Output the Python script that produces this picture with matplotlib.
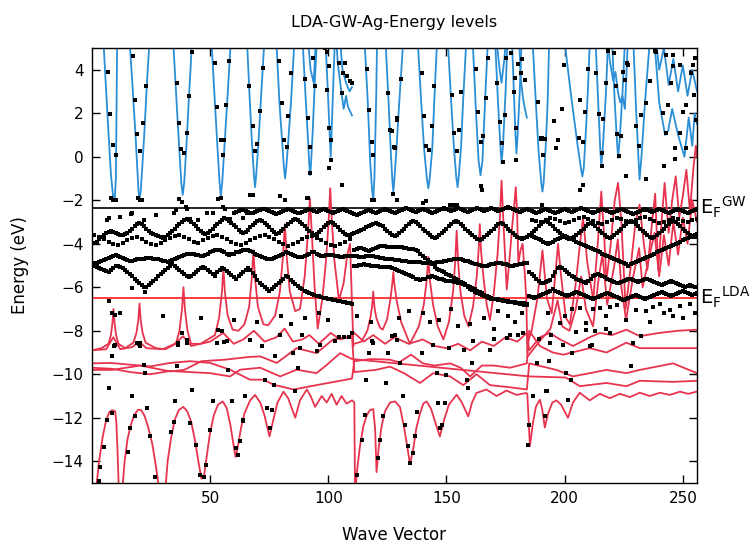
import matplotlib
matplotlib.use("Agg")
import matplotlib.pyplot as plt

# ---------------- data ----------------
# LDA conduction band (blue), vertices (x, E)
blue1_x = [4.5, 6.5, 8.0, 8.8, 9.2, 9.6, 10.1, 10.7,
           15.5, 17.0, 18.3, 19.2, 19.7, 20.1, 20.6, 21.2, 22.2, 23.3, 24.7,
           34.0, 35.8, 36.9, 37.8, 38.4, 39.0, 39.9, 40.9, 42.7,
           50.2, 52.0, 53.1, 54.0, 54.5, 55.1, 56.0, 57.2, 59.1,
           65.3, 66.8, 67.7, 68.5, 69.0, 69.5, 70.4, 71.4, 73.3,
           77.7, 79.3, 80.4, 81.2, 81.7, 82.2, 83.1, 84.2, 86.0,
           88.8, 90.5, 91.4, 91.9, 92.3, 92.7, 93.4, 94.3, 95.5,
           98.5, 99.8, 100.5, 101.0, 101.5, 102.3, 103.0]
blue1_y = [6, 2.0, -0.8, -1.7, -2.0, -2.0, -1.0, 6,
           6, 3.5, 1.2, -0.6, -1.6, -1.95, -1.6, -0.6, 1.2, 3.5, 6,
           6, 2.5, 0.4, -1.2, -1.75, -1.2, 0.4, 2.5, 6,
           6, 2.5, 0.4, -1.2, -1.8, -1.2, 0.4, 2.5, 6,
           6, 2.5, 0.6, -0.8, -1.4, -0.8, 0.6, 2.5, 6,
           6, 2.5, 0.8, -0.5, -1.0, -0.5, 0.8, 2.5, 6,
           6, 2.5, 0.8, -0.3, -0.85, -0.3, 1.2, 3.5, 6,
           6, 3.0, 1.2, 0.0, 1.5, 4.0, 6]
blue2_x = [90.9, 92.5, 93.8, 95.0, 103.0, 104.0, 105.5, 106.5, 107.5, 108.3, 110.0]
blue2_y = [6, 4.0, 3.4, 6, 6, 4.3, 3.0, 2.2, 2.8, 2.3, 1.9]
blue3_x = [104.5, 106.0, 107.5, 109.0, 110.0]
blue3_y = [6, 4.0, 3.4, 3.0, 3.2]
blue4_x = [115.0, 116.7, 117.7, 118.5, 119.0, 119.5, 120.3, 120.7,
           123.9, 125.5, 126.4, 127.1, 127.5, 127.9, 128.8, 130.0, 132.1,
           137.5, 139.3, 140.5, 141.7, 142.3, 142.9, 144.0, 144.8, 146.3,
           150.2, 152.0, 153.1, 154.1, 154.7, 155.2, 156.2, 157.0, 158.7,
           160.8, 162.5, 163.6, 164.4, 165.2, 166.3, 167.8,
           170.3, 171.8, 172.8, 173.3, 173.9, 175.0, 176.0,
           177.5, 178.5, 179.2, 179.6, 180.1, 181.0, 182.0]
blue4_y = [6, 2.5, -0.2, -1.5, -2.0, -1.0, 3.0, 6,
           6, 2.5, 0.3, -1.1, -1.6, -1.1, 0.3, 2.5, 6,
           6, 2.5, 0.4, -1.0, -1.45, -1.0, 0.4, 2.5, 6,
           6, 2.5, 0.5, -0.9, -1.4, -0.9, 0.5, 2.5, 6,
           6, 2.0, -0.2, -0.85, -0.2, 2.5, 6,
           6, 2.5, 0.5, -0.3, 0.5, 3.0, 6,
           6, 3.0, 1.0, 0.15, 1.0, 3.0, 6]
blue5_x = [170.5, 172.5, 173.3, 174.5, 175.5, 180.5, 181.5, 182.5, 183.2, 184.0]
blue5_y = [6, 4.0, 3.4, 4.5, 6, 6, 3.5, 2.6, 2.2, 1.8]
blue6_x = [186.1, 187.8, 189.0, 190.1, 190.6, 191.1, 192.0, 192.8, 193.6,
           199.2, 202.5, 205.5, 207.0, 207.5, 208.1, 209.0, 209.8, 210.9,
           212.8, 214.2, 215.0, 215.5, 216.2, 217.5, 218.6,
           219.8, 221.2, 222.1, 222.6, 223.3, 224.5, 225.8,
           228.8, 230.3, 231.2, 231.7, 232.5, 234.0, 236.5,
           237.5, 240.0, 242.5, 243.8, 245.5, 248.0, 250.7, 252.5, 254.0, 255.0, 256.0]
blue6_y = [6, 2.5, 0.2, -1.2, -1.6, -1.2, 0.5, 2.5, 6,
           6, 3.0, 0.5, -0.6, -0.9, -0.5, 1.2, 3.0, 6,
           6, 2.5, 0.5, -0.45, 0.5, 3.0, 6,
           6, 2.5, 0.8, -0.05, 0.8, 3.0, 6,
           6, 2.0, 0.0, -1.05, 0.0, 2.5, 6,
           6, 2.5, 1.0, 1.2, 2.2, 1.0, 0.0, 1.8, 0.5, 2.0, 1.5]
blue7_x = [217.5, 219.0, 220.5, 221.5, 222.5, 223.5, 224.5, 225.5, 227.0,
           238.0, 240.0, 242.0, 244.0, 246.0, 248.0, 250.0, 252.0, 254.0, 256.0]
blue7_y = [6, 4.5, 3.5, 3.9, 3.0, 2.5, 2.8, 2.2, 6,
           6, 4.0, 5.0, 3.3, 4.5, 3.0, 4.2, 2.8, 4.0, 3.0]

# LDA valence bands (red), vertices (x, E)
red1_x = [0, 4, 7.0, 8.0, 8.6, 9.1, 9.6, 10.2, 11.2, 14, 17.5, 18.8, 19.6, 20.1, 20.6, 21.4, 22.7,
          27, 31, 35.5, 37.0, 38.1, 38.7, 39.3, 40.4, 41.9, 46, 52.0, 53.8, 55.0, 55.6, 56.2,
          57.4, 59.5, 62.0, 64.5, 66.5, 67.6, 68.3, 69.0, 70.2, 72.5, 74.5, 77.5, 79.5, 80.8,
          81.6, 82.4, 83.7, 86.0, 88.0, 90.0, 91.4, 92.2, 93.0, 94.2, 95.5, 97.5, 99.0, 100.1,
          100.8, 101.5, 102.6, 104.5, 106.5, 108.0, 109.2, 110.6]
red1_y = [-8.9, -8.8, -8.6, -8.2, -7.7, -7.0, -7.7, -8.2, -8.6, -8.8, -8.55, -8.1, -7.5, -6.75, -7.5, -8.1, -8.55,
          -8.8, -8.85, -8.6, -8.0, -7.0, -6.0, -7.0, -8.0, -8.6, -8.6, -8.2, -7.4, -6.2, -5.1, -6.2,
          -7.3, -7.95, -8.0, -7.7, -6.9, -5.6, -4.3, -5.6, -6.9, -7.7, -7.75, -7.3, -6.2, -4.6,
          -3.1, -4.6, -6.2, -7.1, -7.0, -5.5, -3.5, -1.9, -3.5, -6.0, -7.9, -6.5, -4.8, -3.0,
          -1.45, -3.0, -4.8, -6.6, -5.8, -4.5, -4.0, -8.7]
red1b_x = [111, 114, 116.5, 117.8, 118.5, 119.0, 119.5, 120.3, 121.8, 123.0, 124.8, 126.2, 127.0,
           127.5, 128.0, 128.9, 130.8, 134.5, 138.3, 140.4, 141.6, 142.3, 143.0, 144.3, 146.3,
           148.7, 151.0, 152.8, 153.7, 154.3, 154.9, 155.9, 157.5, 159.3, 161.2, 162.8, 163.6,
           164.1, 164.6, 165.6, 167.0, 168.4, 170.0, 171.6, 172.6, 173.3, 174.0, 174.8, 175.5,
           176.6, 177.8, 178.7, 179.3, 179.9, 180.4, 181.3, 182.2, 183.2, 183.8, 184.2]
red1b_y = [-8.6, -8.5, -8.0, -7.4, -6.9, -6.2, -6.9, -7.4, -7.85, -7.95, -7.5, -6.6, -5.9,
           -5.3, -5.9, -6.6, -7.6, -8.6, -7.8, -6.8, -5.7, -4.6, -5.7, -6.8, -7.8,
           -8.4, -7.6, -6.2, -4.8, -3.4, -4.8, -6.2, -7.3, -7.8, -6.9, -5.5, -4.3,
           -3.1, -4.3, -5.5, -6.8, -7.5, -6.3, -4.5, -2.8, -1.1, -2.8, -4.6, -6.1,
           -4.8, -3.2, -2.2, -1.4, -2.6, -4.9, -4.3, -4.0, -5.5, -6.6, -9.0]
red1c_x = [184.2, 186, 188.5, 190.6, 192.5, 194.5, 196, 197.2, 198.5, 200.5, 202.2, 204.5, 206.5,
           207.8, 209.5, 212.1, 214, 215.5, 216.8, 217.7, 219.5, 221.2, 222.6, 224, 225.8,
           228, 230, 231.7, 233.5, 235, 237, 238.3, 239.6, 241, 242.3, 244, 245.5, 247,
           248.5, 250, 251.5, 253, 254.5, 255.5, 256]
red1c_y = [-8.6, -8.0, -6.5, -4.3, -6.5, -7.2, -5.5, -4.0, -5.5, -7.4, -7.7, -6.0, -4.0,
           -2.8, -4.8, -6.6, -4.0, -1.6, -3.8, -5.7, -4.0, -2.0, -1.2, -3.0, -7.0,
           -5.0, -3.0, -2.2, -4.0, -5.2, -3.0, -1.7, -5.2, -3.0, -1.2, -3.5, -2.0, -0.9,
           -2.8, -1.8, -0.6, -2.5, -0.5, 0.5, 0.0]
red1d_x = [184.2, 190, 194, 197, 199, 202, 204.7, 207, 209, 212, 214.5, 216, 218, 221, 222.5,
           224, 226, 229, 231.5, 233, 236, 238, 240, 242, 244, 246, 248, 250, 252, 254, 256]
red1d_y = [-9.2, -8.4, -7.9, -6.6, -7.8, -8.0, -7.0, -5.5, -7.0, -7.8, -5.5, -4.5, -6.8, -5.0, -3.8,
           -6.0, -7.5, -5.5, -4.2, -6.0, -4.5, -3.5, -5.5, -3.6, -5.0, -3.0, -4.5, -2.8, -4.0, -2.0, -3.0]
red2_x = [0, 6, 9, 12, 17, 20, 23, 30, 35, 38.5, 42, 50, 55.5, 60, 64, 68.5, 73, 78, 81.5,
          85, 89, 92, 96, 101, 105, 110,
          111, 115, 119, 124, 128, 134, 140, 145, 150, 155, 160, 165, 170, 175, 180, 184,
          185, 189.5, 193.7, 198, 203.6, 210.6, 214.9, 220, 226.1, 231.8, 240, 248, 256]
red2_y = [-8.9, -8.85, -8.3, -8.85, -8.75, -8.5, -8.8, -8.85, -8.6, -8.25, -8.7, -8.5, -8.1, -8.6, -8.4,
          -8.0, -8.5, -8.3, -7.9, -8.5, -8.4, -8.2, -8.6, -8.1, -8.4, -8.25,
          -8.1, -8.5, -8.2, -8.6, -8.3, -8.6, -8.4, -8.7, -8.8, -8.6, -8.9, -8.5, -8.7, -8.3, -8.5, -8.1,
          -8.9, -8.3, -8.1, -8.4, -8.7, -8.3, -8.1, -8.2, -7.95, -8.25, -8.1, -8.0, -7.95]
red3_x = [0, 7.7, 16.2, 24.6, 33.1, 41.5, 50, 58.4, 66.9, 72.6, 76.8, 85.3, 95, 110,
          111, 118, 126, 130, 135, 140, 145, 151.5, 156, 160, 165, 170, 176.9, 184,
          185, 189.5, 195, 199.4, 210.6, 217.7, 226.1, 231.8, 245, 256]
red3_y = [-9.5, -9.48, -9.56, -9.64, -9.48, -9.4, -9.48, -9.79, -10.25, -10.25, -10.48, -10.7, -10.5, -10.2,
          -9.4, -9.3, -9.33, -9.45, -9.1, -9.5, -9.6, -9.5, -9.7, -10.1, -9.6, -9.6, -9.7, -9.5,
          -8.0, -8.7, -9.0, -9.1, -8.8, -9.0, -8.55, -8.8, -8.8, -8.8]
red4_x = [0, 8.5, 20.4, 33.1, 39, 46.3, 56.3, 66.9, 71.2, 78.2, 86.6, 95, 102, 110,
          111, 120, 126.1, 132, 138.8, 144.4, 151.5, 157.1, 162.7, 168.4, 176.9, 184,
          185, 196.5, 203.5, 217.7, 226.1, 231.8, 245.9, 256]
red4_y = [-9.8, -9.8, -9.6, -9.87, -9.8, -9.4, -9.33, -9.2, -9.18, -9.48, -8.8, -9.03, -8.4, -8.25,
          -9.9, -9.8, -9.65, -9.95, -10.4, -9.95, -10.1, -10.5, -10.0, -10.5, -10.6, -10.7,
          -9.5, -9.8, -10.1, -9.8, -9.95, -9.8, -9.5, -9.95]
red5_x = [0, 8.5, 16.2, 24.6, 33.1, 41.5, 50, 58.4, 62.7, 71.2, 79.6, 86.6, 95, 99, 105, 110,
          185, 200.5, 206.4, 217.7, 226.1, 231.8, 246, 256]
red5_y = [-9.7, -9.75, -9.9, -10.0, -9.85, -9.9, -9.95, -10.1, -9.79, -9.7, -10.1, -9.79, -9.95, -9.6, -9.03, -9.3,
          -10.1, -10.15, -10.55, -10.4, -10.55, -10.3, -10.35, -10.3]
red6_x = [1.5, 3.0, 4.5, 6.0, 7.3, 8.5, 9.8, 10.3, 10.8, 11.4,
          12.7, 13.8, 15.0, 16.5, 18.0, 19.5, 20.8, 22.2, 23.7, 25.5, 27.0, 28.3, 28.8,
          30.9, 32.0, 33.5, 35.0, 36.7, 38.6, 40.3, 42.0, 43.5, 45.0, 46.3, 47.3, 48.5, 49.8,
          51.5, 53.3, 55.3, 57.0, 58.5, 59.8, 60.7, 61.6, 63.0, 64.5, 66.9, 69.0, 71.2, 73.0,
          75.1, 76.5, 78.5, 81.0, 83.0, 86.0, 88.0, 90.9, 92.5, 94.4, 97.2, 99.3, 101.4, 103.5,
          105.6, 107.7, 110.0, 111.0,
          111.3, 112.3, 113.4, 114.8, 116.2, 117.6, 119.0, 119.8, 120.4, 121.2, 122.5, 124.0,
          126.1, 128.2, 130.3, 132.0, 133.5, 134.5, 135.7, 137.2, 138.8, 140.2, 141.6, 143.5,
          145.5, 147.2, 149.0, 151.0, 154.3, 156.5, 159.2, 160.8, 162.7, 166.9, 171.2, 175.4,
          179.6, 183.8, 184.2,
          185.3, 186.5, 187.8, 189.5, 190.5, 191.6, 193.0, 194.8, 196.5, 198.5, 201.4, 203.5,
          206.4, 210.6, 214.9, 219.1, 223.4, 227.6, 231.8, 236.0, 240.3, 244.5, 248.8, 252.3, 255.8]
red6_y = [-15.5, -14.0, -12.9, -12.1, -11.75, -11.65, -11.7, -12.2, -13.5, -15.5,
          -15.5, -14.0, -13.0, -12.3, -11.85, -11.63, -11.65, -11.9, -12.4, -13.2, -14.2, -15.2, -15.5,
          -15.5, -14.0, -12.9, -12.1, -11.65, -11.5, -11.7, -12.2, -13.0, -14.0, -14.8, -14.75, -13.8, -12.8,
          -11.9, -11.4, -11.25, -11.55, -12.3, -13.2, -13.8, -13.4, -12.5, -11.8, -11.2, -10.95, -11.3, -11.9,
          -12.86, -12.2, -11.3, -10.8, -11.1, -12.0, -11.2, -10.7, -11.0, -11.5, -11.0, -11.3, -10.9, -11.4,
          -11.0, -11.35, -11.2, -11.3,
          -15.5, -14.3, -13.3, -12.4, -11.9, -11.65, -11.6, -12.5, -14.5, -13.5, -12.4, -11.7,
          -11.3, -11.25, -11.5, -12.4, -13.4, -14.1, -13.6, -12.5, -11.8, -11.35, -11.25, -11.6,
          -12.3, -12.86, -12.1, -11.4, -10.94, -11.3, -11.94, -11.3, -10.86, -10.7, -11.0, -10.75,
          -10.95, -10.86, -10.9,
          -13.3, -12.3, -11.5, -11.17, -11.6, -12.45, -11.8, -11.3, -11.2, -11.4, -12.0, -11.3,
          -10.85, -11.2, -10.9, -11.1, -10.9, -11.05, -10.85, -11.0, -10.85, -10.95, -10.8, -10.9, -10.8]

# Horizontal Fermi levels
ef_gw = -2.35
ef_lda = -6.48

# GW quasiparticle energies (black dots)
gw_main_x = list(range(1, 111))
gw_main_y = [-4.9, -4.88, -4.85, -4.8, -4.75, -4.7, -4.65, -4.6, -4.55, -4.5,
             -4.55, -4.6, -4.65, -4.7, -4.75, -4.8, -4.78, -4.75, -4.7, -4.7,
             -4.7, -4.68, -4.66, -4.65, -4.66, -4.68, -4.7, -4.72, -4.75, -4.78,
             -4.8, -4.82, -4.8, -4.75, -4.7, -4.65, -4.6, -4.55, -4.5, -4.48,
             -4.45, -4.45, -4.47, -4.5, -4.52, -4.55, -4.55, -4.5, -4.45, -4.4,
             -4.35, -4.3, -4.28, -4.3, -4.35, -4.4, -4.45, -4.5, -4.48, -4.45,
             -4.4, -4.38, -4.35, -4.3, -4.28, -4.3, -4.35, -4.4, -4.45, -4.5,
             -4.55, -4.6, -4.65, -4.7, -4.72, -4.7, -4.65, -4.6, -4.55, -4.5,
             -4.45, -4.4, -4.42, -4.45, -4.5, -4.55, -4.6, -4.62, -4.6, -4.55,
             -4.5, -4.45, -4.4, -4.4, -4.45, -4.5, -4.55, -4.55, -4.5, -4.5,
             -4.5, -4.52, -4.55, -4.58, -4.6, -4.6, -4.58, -4.55, -4.55, -4.55]
gw_main2_x = list(range(111, 185))
gw_main2_y = [-4.55, -4.58, -4.6, -4.62, -4.6, -4.58, -4.55, -4.55, -4.58, -4.6,
              -4.62, -4.65, -4.66, -4.68, -4.7, -4.7, -4.72, -4.74, -4.75, -4.76,
              -4.78, -4.8, -4.8, -4.82, -4.83, -4.84, -4.85, -4.86, -4.86, -4.87,
              -4.88, -4.88, -4.9, -4.9, -4.88, -4.86, -4.84, -4.82, -4.8, -4.78,
              -4.76, -4.74, -4.72, -4.7, -4.7, -4.72, -4.75, -4.78, -4.8, -4.84,
              -4.88, -4.92, -4.95, -4.98, -5.0, -5.02, -5.0, -4.98, -4.95, -4.92,
              -4.9, -4.88, -4.9, -4.92, -4.95, -4.98, -5.0, -5.0, -4.98, -4.96,
              -4.94, -4.92, -4.9, -4.9]
gw_diag_x = list(range(111, 185))
gw_diag_y = [-5.0, -5.0, -4.98, -4.96, -4.95, -4.96, -4.98, -5.0, -5.02, -5.03,
             -5.04, -5.05, -5.05, -5.05, -5.05, -5.05, -5.1, -5.15, -5.2, -5.25,
             -5.3, -5.35, -5.4, -5.45, -5.5, -5.55, -5.6, -5.64, -5.66, -5.64,
             -5.6, -5.55, -5.52, -5.5, -5.52, -5.56, -5.6, -5.64, -5.68, -5.7,
             -5.72, -5.73, -5.75, -5.77, -5.79, -5.81, -5.85, -5.9, -5.98, -6.06,
             -6.14, -6.22, -6.27, -6.32, -6.37, -6.42, -6.46, -6.5, -6.52, -6.54,
             -6.56, -6.58, -6.6, -6.62, -6.64, -6.66, -6.68, -6.7, -6.72, -6.74,
             -6.76, -6.78, -6.8, -6.82]
gw_diag2_x = list(range(111, 185))
gw_diag2_y = [-4.3, -4.25, -4.2, -4.2, -4.25, -4.3, -4.35, -4.3, -4.25, -4.2,
              -4.15, -4.12, -4.1, -4.12, -4.13, -4.13, -4.13, -4.13, -4.14, -4.15,
              -4.16, -4.18, -4.2, -4.22, -4.24, -4.26, -4.28, -4.35, -4.45, -4.55,
              -4.65, -4.75, -4.85, -4.95, -5.05, -5.15, -5.2, -5.26, -5.32, -5.38,
              -5.44, -5.5, -5.56, -5.62, -5.68, -5.74, -5.8, -5.86, -5.92, -5.98,
              -6.04, -6.1, -6.16, -6.22, -6.28, -6.34, -6.4, -6.45, -6.5, -6.52,
              -6.54, -6.56, -6.58, -6.6, -6.62, -6.64, -6.66, -6.68, -6.7, -6.72,
              -6.73, -6.73, -6.74, -6.75]
gw_top_x = list(range(60, 257))
gw_top_y = [-2.6, -2.55, -2.5, -2.45, -2.45, -2.5, -2.55, -2.6, -2.6, -2.55,
            -2.5, -2.45, -2.4, -2.4, -2.45, -2.5, -2.55, -2.6, -2.65, -2.6,
            -2.55, -2.5, -2.45, -2.4, -2.45, -2.5, -2.55, -2.6, -2.6, -2.55,
            -2.5, -2.45, -2.4, -2.45, -2.5, -2.55, -2.5, -2.45, -2.4, -2.45,
            -2.5, -2.55, -2.6, -2.55, -2.5, -2.45, -2.4, -2.45, -2.5, -2.55,
            -2.6, -2.65, -2.7, -2.65, -2.6, -2.55, -2.5, -2.45, -2.5, -2.55,
            -2.6, -2.55, -2.5, -2.45, -2.4, -2.45, -2.5, -2.55, -2.6, -2.55,
            -2.5, -2.45, -2.4, -2.35, -2.4, -2.45, -2.5, -2.55, -2.5, -2.45,
            -2.4, -2.45, -2.5, -2.55, -2.6, -2.55, -2.5, -2.45, -2.4, -2.35,
            -2.4, -2.45, -2.5, -2.45, -2.4, -2.35, -2.4, -2.45, -2.5, -2.55,
            -2.5, -2.45, -2.4, -2.35, -2.4, -2.45, -2.5, -2.45, -2.4, -2.35,
            -2.4, -2.45, -2.5, -2.45, -2.4, -2.35, -2.3, -2.35, -2.4, -2.45,
            -2.5, -2.55, -2.5, -2.45, -2.4, -2.45, -2.5, -2.55, -2.6, -2.55,
            -2.5, -2.45, -2.4, -2.45, -2.5, -2.55, -2.6, -2.55, -2.5, -2.45,
            -2.4, -2.45, -2.5, -2.55, -2.5, -2.45, -2.4, -2.35, -2.4, -2.45,
            -2.5, -2.55, -2.6, -2.55, -2.5, -2.45, -2.4, -2.45, -2.5, -2.55,
            -2.6, -2.55, -2.5, -2.45, -2.4, -2.45, -2.5, -2.55, -2.6, -2.65,
            -2.6, -2.55, -2.5, -2.45, -2.4, -2.45, -2.5, -2.55, -2.5, -2.45,
            -2.4, -2.45, -2.5, -2.55, -2.6, -2.55, -2.5, -2.45, -2.4, -2.45,
            -2.5, -2.55, -2.6, -2.55, -2.5, -2.45, -2.4]
gw_zig_x = list(range(1, 257))
gw_zig_y = [-3.95, -3.9, -3.8, -3.7, -3.6, -3.5, -3.45, -3.4, -3.45, -3.5,
            -3.55, -3.6, -3.6, -3.55, -3.5, -3.4, -3.3, -3.2, -3.1, -3.05,
            -3.1, -3.2, -3.3, -3.4, -3.5, -3.55, -3.6, -3.65, -3.7, -3.75,
            -3.7, -3.6, -3.5, -3.4, -3.3, -3.2, -3.1, -3.0, -2.9, -2.85,
            -2.9, -3.0, -3.1, -3.2, -3.3, -3.4, -3.5, -3.55, -3.5, -3.4,
            -3.3, -3.2, -3.1, -3.0, -2.9, -2.8, -2.85, -2.95, -3.05, -3.15,
            -3.25, -3.35, -3.45, -3.5, -3.45, -3.35, -3.25, -3.15, -3.05, -2.95,
            -2.9, -2.95, -3.05, -3.15, -3.25, -3.35, -3.45, -3.55, -3.5, -3.4,
            -3.3, -3.2, -3.1, -3.0, -2.9, -2.85, -2.9, -3.0, -3.1, -3.2,
            -3.3, -3.4, -3.5, -3.6, -3.55, -3.45, -3.35, -3.25, -3.15, -3.05,
            -3.0, -3.05, -3.15, -3.25, -3.35, -3.45, -3.55, -3.6, -3.6, -3.55,
            -3.5, -3.45, -3.4, -3.35, -3.3, -3.25, -3.2, -3.15, -3.1, -3.05,
            -3.1, -3.15, -3.2, -3.3, -3.4, -3.5, -3.6, -3.65, -3.6, -3.5,
            -3.4, -3.3, -3.2, -3.1, -3.0, -2.95, -3.0, -3.1, -3.2, -3.3,
            -3.4, -3.5, -3.6, -3.7, -3.75, -3.7, -3.6, -3.5, -3.4, -3.3,
            -3.2, -3.1, -3.0, -2.95, -3.0, -3.1, -3.2, -3.3, -3.4, -3.5,
            -3.6, -3.7, -3.8, -3.85, -3.8, -3.7, -3.6, -3.5, -3.4, -3.3,
            -3.2, -3.1, -3.05, -3.1, -3.2, -3.3, -3.4, -3.5, -3.6, -3.7,
            -3.75, -3.8, -3.75, -3.7, -3.6, -3.5, -3.4, -3.3, -3.2, -3.1,
            -3.0, -2.95, -3.0, -3.1, -3.2, -3.3, -3.4, -3.5, -3.6, -3.7,
            -3.75, -3.8, -3.75, -3.7, -3.6, -3.5, -3.4, -3.3, -3.2, -3.1,
            -3.05, -3.1, -3.2, -3.3, -3.4, -3.5, -3.6, -3.7, -3.75, -3.7,
            -3.6, -3.5, -3.4, -3.3, -3.2, -3.1, -3.0, -2.95, -3.0, -3.1,
            -3.2, -3.3, -3.4, -3.5, -3.6, -3.7, -3.75, -3.7, -3.6, -3.5,
            -3.4, -3.3, -3.2, -3.1, -3.0, -2.95, -3.0, -3.1, -3.2, -3.3,
            -3.4, -3.5, -3.6, -3.65, -3.6, -3.55]
gw_zig2_x = list(range(1, 111, 2))
gw_zig2_y = [-3.6, -3.7, -3.8, -3.9, -4.0, -4.05, -3.95, -3.85, -3.75, -3.7,
             -3.8, -3.9, -4.0, -4.05, -3.95, -3.85, -3.75, -3.65, -3.6, -3.7,
             -3.8, -3.9, -3.95, -3.85, -3.75, -3.65, -3.6, -3.7, -3.8, -3.9,
             -4.0, -4.05, -3.95, -3.85, -3.75, -3.65, -3.6, -3.7, -3.8, -3.9,
             -4.0, -4.1, -4.0, -3.9, -3.8, -3.7, -3.65, -3.75, -3.85, -3.95,
             -4.05, -4.1, -4.0, -3.9, -3.8]
gw_low_x = list(range(1, 111))
gw_low_y = [-5.0, -5.05, -5.1, -5.15, -5.2, -5.25, -5.3, -5.2, -5.1, -5.0,
            -5.0, -5.05, -5.1, -5.2, -5.3, -5.4, -5.5, -5.6, -5.7, -5.8,
            -5.9, -6.0, -6.0, -5.9, -5.8, -5.7, -5.6, -5.5, -5.4, -5.3,
            -5.2, -5.1, -5.0, -4.95, -5.0, -5.1, -5.2, -5.3, -5.4, -5.5,
            -5.55, -5.5, -5.4, -5.3, -5.2, -5.1, -5.05, -5.1, -5.2, -5.3,
            -5.4, -5.5, -5.3, -5.2, -5.1, -5.15, -5.25, -5.35, -5.45, -5.55,
            -5.6, -5.5, -5.4, -5.3, -5.2, -5.1, -5.2, -5.35, -5.5, -5.65,
            -5.8, -5.9, -6.0, -6.1, -6.15, -6.1, -6.0, -5.9, -5.8, -5.7,
            -5.6, -5.5, -5.55, -5.65, -5.75, -5.85, -5.95, -6.05, -6.1, -6.15,
            -6.2, -6.25, -6.3, -6.35, -6.4, -6.42, -6.45, -6.48, -6.5, -6.52,
            -6.55, -6.57, -6.6, -6.62, -6.65, -6.67, -6.7, -6.72, -6.73, -6.75]
gw_r1_x = list(range(185, 257))
gw_r1_y = [-5.3, -5.4, -5.5, -5.6, -5.7, -5.8, -5.8, -5.75, -5.7, -5.65,
           -5.5, -5.3, -5.1, -5.05, -5.1, -5.2, -5.3, -5.4, -5.5, -5.55,
           -5.6, -5.65, -5.7, -5.75, -5.8, -5.7, -5.6, -5.5, -5.45, -5.4,
           -5.45, -5.5, -5.55, -5.6, -5.65, -5.7, -5.75, -5.8, -5.8, -5.75,
           -5.7, -5.65, -5.6, -5.6, -5.65, -5.7, -5.75, -5.7, -5.65, -5.6,
           -5.6, -5.65, -5.7, -5.75, -5.8, -5.85, -5.9, -5.85, -5.8, -5.75,
           -5.7, -5.75, -5.8, -5.85, -5.9, -5.95, -6.0, -5.95, -5.9, -5.95,
           -6.0, -6.0]
gw_r2_x = list(range(185, 257))
gw_r2_y = [-6.4, -6.45, -6.5, -6.45, -6.4, -6.35, -6.3, -6.25, -6.2, -6.15,
           -6.1, -6.15, -6.2, -6.25, -6.3, -6.35, -6.4, -6.35, -6.3, -6.25,
           -6.2, -6.25, -6.3, -6.35, -6.4, -6.45, -6.5, -6.55, -6.5, -6.45,
           -6.4, -6.35, -6.3, -6.25, -6.3, -6.35, -6.4, -6.45, -6.5, -6.55,
           -6.6, -6.55, -6.5, -6.45, -6.4, -6.35, -6.4, -6.45, -6.5, -6.55,
           -6.5, -6.45, -6.4, -6.35, -6.3, -6.25, -6.2, -6.25, -6.3, -6.35,
           -6.4, -6.35, -6.3, -6.25, -6.2, -6.15, -6.2, -6.25, -6.3, -6.35,
           -6.3, -6.25]
gw_r3_x = list(range(185, 257))
gw_r3_y = [-3.6, -3.65, -3.7, -3.75, -3.8, -3.85, -3.9, -3.95, -4.0, -3.95,
           -3.9, -3.85, -3.8, -3.75, -3.7, -3.65, -3.7, -3.75, -3.8, -3.85,
           -3.9, -3.95, -4.0, -4.05, -4.1, -4.15, -4.2, -4.25, -4.3, -4.35,
           -4.4, -4.45, -4.5, -4.55, -4.6, -4.65, -4.7, -4.75, -4.8, -4.85,
           -4.9, -4.95, -5.0, -4.95, -4.9, -4.85, -4.8, -4.75, -4.7, -4.65,
           -4.6, -4.55, -4.5, -4.45, -4.4, -4.35, -4.3, -4.25, -4.2, -4.15,
           -4.1, -4.05, -4.0, -3.95, -3.9, -3.85, -3.8, -3.75, -3.7, -3.7,
           -3.7, -3.7]
gw_r4_x = list(range(186, 257, 2))
gw_r4_y = [-2.9, -2.95, -3.0, -2.9, -2.8, -2.85, -2.95, -3.05, -3.0, -2.9,
           -2.8, -2.75, -2.85, -2.95, -3.05, -3.1, -3.0, -2.9, -2.8, -2.85,
           -2.95, -3.0, -2.9, -2.8, -2.75, -2.85, -2.95, -3.05, -3.0, -2.9,
           -2.8, -2.85, -2.95, -3.0, -2.9, -2.85]

# GW points on the conduction band and scattered / deep points
gw_cb_x = [6.6, 7.7, 8.9, 10.1, 8.1, 9.0, 10.3,
           17.3, 18.0, 19.2, 20.4, 19.6, 20.4, 21.3, 21.5, 22.8,
           35.9, 37.0, 37.7, 39.1, 40.3, 41.0, 42.4, 37.0, 38.0, 40.1,
           52.1, 53.1, 54.5, 55.3, 56.0, 56.7, 58.1, 53.5, 54.5,
           66.6, 68.0, 69.0, 70.0, 71.1, 72.3, 66.9, 68.0,
           79.3, 80.3, 81.3, 82.4, 83.1, 84.2, 79.6, 81.7,
           90.1, 91.3, 92.3, 92.3, 94.4, 93.4, 90.9, 91.6,
           98.6, 99.5, 100.4, 99.3, 100.4, 101.0, 101.0, 100.4, 105.6, 104.7, 106.3, 105.6,
           107.7, 109.2, 109.9, 107.2,
           116.2, 117.3, 118.3, 119.0, 118.3, 119.3,
           125.4, 126.3, 127.7, 128.9, 128.9, 127.5, 126.8, 128.2, 129.2, 130.6,
           139.5, 140.5, 141.3, 142.7, 143.7, 144.7, 140.2, 141.3,
           152.2, 153.1, 154.3, 155.4, 156.1, 151.5, 153.0, 154.3,
           162.4, 163.4, 164.4, 165.5, 166.7, 167.4, 164.4, 165.2,
           171.2, 172.6, 173.3, 173.7, 174.7, 175.1, 177.5, 178.5, 179.3, 179.6, 180.3, 181.7,
           183.1, 178.8, 181.9,
           188.8, 189.8, 190.9, 190.4, 190.2, 191.6, 190.6, 195.4, 197.2, 196.3, 198.7, 199.6,
           206.1, 207.8, 206.7, 208.5, 209.9, 213.4, 214.6, 215.6, 216.3, 217.7, 218.4,
           220.8, 221.6, 222.2, 223.0, 224.0, 225.4, 226.4, 226.9, 224.8, 213.2,
           230.3, 231.5, 232.5, 234.6, 236.0, 238.1, 241.6, 242.7, 243.7, 245.1, 245.8, 246.5,
           248.7, 250.1, 251.5, 251.5, 253.6, 254.6, 255.4, 255.0, 254.3, 248.8, 245.8, 243.0,
           238.8, 215.6, 206.7, 207.8, 225.8, 234.6, 241.9, 246.5]
gw_cb_y = [3.88, 1.98, 0.55, 0.09, -1.9, -2.0, -2.0,
           4.64, 2.62, 1.04, 0.25, -1.9, -2.0, -2.0, 1.55, 3.26,
           3.39, 1.56, 0.34, 0.18, 1.07, 2.78, 4.8, -1.96, -2.1, -2.4,
           4.3, 2.3, 0.77, 0.08, 0.77, 2.4, 4.4, -1.96, -1.9,
           3.26, 1.43, 0.25, 0.6, 2.1, 4.08, -1.75, -1.75,
           4.38, 2.47, 0.78, 0.47, 1.89, 3.85, -1.82, -1.98,
           3.57, 1.78, 0.47, -0.75, 3.23, 4.54, -1.9, -1.9,
           5.0, 4.8, 4.18, 3.08, 1.32, 0.78, -0.14, -0.52, -1.29, 4.31, 3.85, 2.93,
           3.7, 3.46, 3.4, 4.31,
           4.03, 2.13, 0.66, 0.09, -1.98, -1.98,
           2.93, 1.24, 0.47, 1.78, -1.98, -1.7, 1.17, 0.4, 1.7, 3.57,
           3.85, 1.89, 0.51, 0.29, 1.4, 3.23, -2.13, -2.05,
           2.85, 1.09, 0.28, 1.21, 2.96, -2.2, -2.2, -2.2,
           4.03, 2.08, 0.66, 0.97, 2.7, 4.54, -1.33, -1.55,
           3.39, 1.58, 0.63, -0.26, 1.93, 4.54, 4.77, 3.0, 1.32, -0.17, 4.28, 3.85,
           3.54, 3.6, 4.5,
           2.5, 0.81, 0.09, 0.86, 0.86, 0.8, -2.2, 1.63, 0.78, 0.4, 2.19, 4.23,
           0.86, 0.66, 2.59, 2.08, 4.03, 3.85, 1.98, -0.44, 1.73, 3.39, 4.84,
           4.77, 3.23, 1.06, 0.02, 0.94, 3.54, 4.31, 4.2, 3.9, 3.85,
           1.4, 0.48, 1.93, 2.47, 3.46, 4.84, 2.01, 1.09, 2.39, 3.39, 4.15, 0.4,
           1.09, 2.08, 2.39, 0.4, 3.85, 2.85, 1.7, 4.54, 4.2, 4.2, 4.7, 4.7,
           4.8, 0.17, -1.52, -1.3, -0.9, -1.0, -0.44, -0.1]
gw_sc_x = [7.0, 16.9, 35.2, 42.2, 51.4, 59.1, 64.8, 23.2, 9.8, 8.4, 20.4, 19.7, 21.8, 36.6, 40.1,
           35.9, 52.8, 57.0, 57.7, 22.5, 7.0, 8.4, 9.8, 16.9, 22.5, 19.7, 38.0, 40.1, 36.5, 53.5,
           55.0, 56.0, 19.0, 20.5, 9.1,
           2.8, 3.5, 4.9, 6.3, 8.4, 15.1, 16.2, 18.3, 24.6, 26.7, 33.4, 34.5, 41.5, 44.1, 45.8,
           47.2, 48.3, 50.0, 60.8, 61.9, 64.1,
           64.1, 73.9, 76.1, 75.4, 62.7, 64.8, 66.9, 71.8, 77.5, 73.2, 76.8, 79.6, 85.2, 85.9,
           87.3, 88.0, 88.7, 95.1, 96.5, 102.8, 104.5, 106.6, 108.7, 109.9,
           112.0, 114.1, 115.5, 115.9, 117.3, 118.3, 119.0, 121.1, 121.8, 123.2, 124.2, 125.4,
           126.8, 128.2, 128.9, 130.3, 131.5, 132.4, 133.8, 134.5, 135.7, 136.7, 137.7, 139.5,
           144.4, 145.8, 146.5, 147.2, 147.9, 149.3, 150.0, 151.2, 157.4, 158.5, 159.2, 160.6,
           161.3, 168.4, 170.0, 175.4, 177.0, 180.3, 182.5, 184.5, 185.0, 186.7, 188.1, 189.0,
           191.6, 192.3, 192.6, 193.4, 194.4, 199.4, 200.5, 201.5, 202.5, 203.3, 204.7, 210.6,
           211.7, 212.7, 219.1, 228.2, 228.9, 232.5,
           206.4, 209.2, 212.0, 214.9, 217.7, 219.1, 222.0, 224.7, 230.3, 234.6, 237.4, 240.3,
           244.4, 245.9, 248.7, 252.9, 193.0, 198.0, 209.2, 217.7, 193.7, 236.0, 250.0, 255.0,
           200.0, 203.0, 226.0, 242.0,
           140.0, 143.0, 152.0, 155.0, 166.0, 170.0, 176.0, 160.0, 147.0, 172.0, 179.0, 182.0,
           130.0, 134.0, 118.0, 112.0, 100.0, 96.0, 90.0, 84.0, 80.0, 70.0, 60.0, 46.0, 30.0, 12.0,
           6.5, 16.4, 22.0, 34.8, 35.5, 40.1, 41.5, 51.4, 55.6, 56.3, 58.4, 64.0, 65.5,
           7.0, 16.9, 39.8, 48.6, 27.0, 45.0, 12.0]
gw_sc_y = [-10.63, -10.98, -11.24, -10.71, -11.24, -11.24, -10.98, -11.55, -8.64, -9.18, -8.56, -8.6, -9.56, -8.64, -8.56,
           -9.64, -8.56, -8.49, -9.79, -9.95, -6.65, -7.19, -7.27, -6.04, -6.2, -5.8, -8.11, -8.42, -8.55, -7.96,
           -8.0, -8.5, -8.57, -8.7, -8.72,
           -14.92, -14.26, -13.34, -12.1, -11.8, -13.56, -12.48, -11.91, -12.86, -14.71, -12.64, -12.21, -12.24, -13.24, -14.63,
           -14.71, -14.17, -12.56, -13.41, -13.72, -12.1,
           -12.16, -11.55, -11.63, -12.47, -13.08, -11.02, -8.41, -8.72, -9.18, -10.25, -10.48, -8.18, -9.02, -10.79,
           -9.71, -8.79, -8.18, -8.95, -8.64, -8.49, -8.3, -8.3, -8.3, -8.1,
           -14.62, -13.0, -11.86, -10.25, -9.02, -8.49, -8.56, -13.85, -13.0, -11.93, -10.4, -9.02,
           -8.26, -8.18, -8.41, -9.48, -11.02, -12.32, -13.31, -14.08, -13.62, -12.85, -11.75, -9.02,
           -8.64, -9.94, -11.32, -12.47, -12.32, -11.32, -10.02, -8.79, -8.87, -10.25, -10.63, -9.48,
           -8.49, -8.87, -8.4, -8.33, -8.2, -8.18, -8.1, -13.24, -12.32, -11.02, -9.48, -8.4,
           -11.93, -10.79, -10.79, -9.41, -8.18, -8.64, -9.94, -11.17, -10.25, -9.02, -8.07, -8.72,
           -8.65, -8.03, -8.1, -9.64, -8.56, -8.26,
           -6.96, -7.65, -7.0, -6.95, -7.34, -6.9, -6.8, -6.58, -7.04, -7.1, -6.9, -6.75,
           -7.05, -7.3, -6.85, -6.75, -7.19, -7.65, -7.96, -7.9, -8.57, -7.6, -7.4, -7.2,
           -7.3, -7.0, -7.5, -7.2,
           -7.2, -7.6, -7.0, -7.8, -7.4, -7.9, -7.3, -7.7, -7.5, -7.1, -7.6, -7.2,
           -7.4, -7.1, -7.6, -7.3, -7.5, -7.2, -7.4, -7.7, -7.3, -7.6, -7.5, -7.4, -7.3, -7.2,
           -2.9, -2.63, -2.9, -2.57, -2.45, -2.4, -2.85, -2.6, -2.3, -2.4, -2.85, -2.8, -2.6,
           -2.83, -2.6, -2.3, -2.6, -2.7, -2.9, -2.75]

# ---------------- plot ----------------
fig = plt.figure(figsize=(7.5, 5.54), dpi=100)
ax = fig.add_axes([92 / 750, 1 - 483 / 554, 605 / 750, 435 / 554])

blue = "#2a8fd6"
red = "#e8334f"
lw = 1.3
for xs, ys in [(blue1_x, blue1_y), (blue2_x, blue2_y), (blue3_x, blue3_y), (blue4_x, blue4_y),
               (blue5_x, blue5_y), (blue6_x, blue6_y), (blue7_x, blue7_y)]:
    ax.plot(xs, ys, color=blue, lw=lw, zorder=2)
for xs, ys in [(red1_x, red1_y), (red1b_x, red1b_y), (red1c_x, red1c_y), (red1d_x, red1d_y),
               (red2_x, red2_y), (red3_x, red3_y), (red4_x, red4_y), (red5_x, red5_y),
               (red6_x, red6_y)]:
    ax.plot(xs, ys, color=red, lw=lw, zorder=2)

ax.axhline(ef_gw, color="black", lw=1.2, zorder=1)
ax.axhline(ef_lda, color="#ff1a1a", lw=1.2, zorder=1)

for xs, ys in [(gw_main_x, gw_main_y), (gw_main2_x, gw_main2_y), (gw_diag_x, gw_diag_y),
               (gw_diag2_x, gw_diag2_y), (gw_top_x, gw_top_y), (gw_zig_x, gw_zig_y),
               (gw_zig2_x, gw_zig2_y), (gw_low_x, gw_low_y), (gw_r1_x, gw_r1_y),
               (gw_r2_x, gw_r2_y), (gw_r3_x, gw_r3_y), (gw_r4_x, gw_r4_y),
               (gw_cb_x, gw_cb_y), (gw_sc_x, gw_sc_y)]:
    ax.plot(xs, ys, ls="none", marker="s", ms=2.6, color="black", mew=0, zorder=3)

ax.set_xlim(0, 256)
ax.set_ylim(-15, 5)
ax.set_xticks([50, 100, 150, 200, 250])
ax.set_yticks([-14, -12, -10, -8, -6, -4, -2, 0, 2, 4])
ax.tick_params(direction="in", top=True, right=True, length=6, width=1, labelsize=11, pad=6)
for s in ax.spines.values():
    s.set_linewidth(1.0)
ax.set_xlabel("Wave Vector", fontsize=12, labelpad=14)
ax.set_ylabel("Energy (eV)", fontsize=12, labelpad=16)
ax.set_title("LDA-GW-Ag-Energy levels", fontsize=11.5, pad=15)

ax.text(1.005, ef_gw, r"E$_\mathregular{F}$$^\mathregular{GW}$", transform=ax.get_yaxis_transform(),
        ha="left", va="center", fontsize=14)
ax.text(1.005, ef_lda, r"E$_\mathregular{F}$$^\mathregular{LDA}$", transform=ax.get_yaxis_transform(),
        ha="left", va="center", fontsize=14)

fig.savefig("out.png", dpi=100)
